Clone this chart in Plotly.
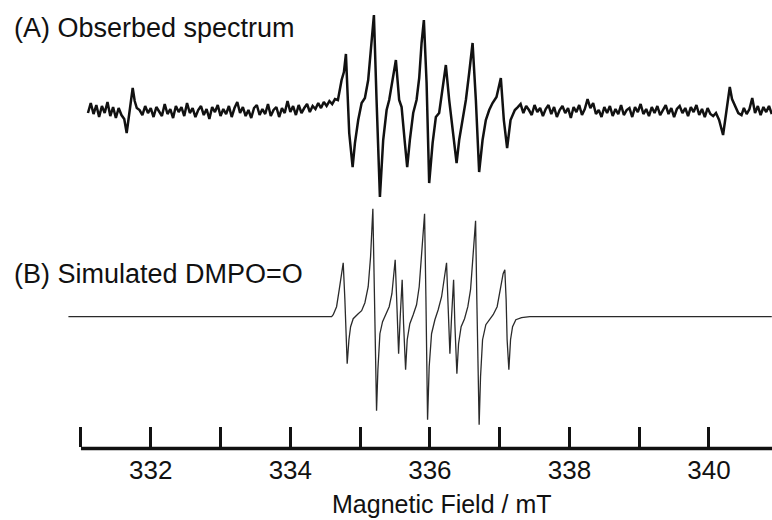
import plotly.graph_objects as go

# ---------------- data (field in mT, intensity in arbitrary units) ----------------
# (A) observed spectrum
obs_field_left = [331.10, 331.14, 331.18, 331.22, 331.26, 331.30, 331.34, 331.38, 331.42, 331.46,
                  331.50, 331.54, 331.58,
                  331.62, 331.655, 331.70, 331.741, 331.77, 331.80]
obs_signal_left = [-0.02, 0.08, -0.03, 0.06, -0.06, 0.05, -0.02, 0.09, -0.05, 0.04,
                   -0.07, 0.03, -0.04,
                   -0.08, -0.22, 0.00, 0.23, 0.10, 0.03]

obs_field_mid = [331.84, 331.88, 331.92, 331.96, 332.00, 332.04, 332.08, 332.12, 332.16, 332.20,
                 332.24, 332.28, 332.32, 332.36, 332.40, 332.44, 332.48, 332.52, 332.56, 332.60,
                 332.64, 332.68, 332.72, 332.76, 332.80, 332.84, 332.88, 332.92, 332.96, 333.00,
                 333.04, 333.08, 333.12, 333.16, 333.20, 333.24, 333.28, 333.32, 333.36, 333.40,
                 333.44, 333.48, 333.52, 333.56, 333.60, 333.64, 333.68, 333.72, 333.76, 333.80,
                 333.84, 333.88, 333.92, 333.96, 334.00, 334.04, 334.08, 334.12, 334.16, 334.20,
                 334.24, 334.28, 334.32, 334.36, 334.40, 334.44, 334.48, 334.52, 334.56, 334.60,
                 334.64]
obs_signal_mid = [0.01, -0.04, 0.05, -0.02, 0.03, -0.06, 0.04, 0.00, -0.05, 0.07,
                  -0.03, 0.02, -0.07, 0.05, -0.01, 0.04, -0.05, 0.08, -0.02, 0.03,
                  -0.06, 0.01, 0.05, -0.04, 0.02, -0.08, 0.04, -0.01, 0.06, -0.05,
                  0.02, -0.03, 0.05, -0.06, 0.03, 0.09, -0.02, 0.04, -0.05, 0.01,
                  -0.07, 0.03, 0.06, -0.04, 0.02, -0.03, 0.07, -0.05, 0.01, 0.04,
                  -0.06, 0.03, -0.02, 0.10, -0.01, 0.05, -0.04, 0.06, -0.02, 0.03,
                  0.07, -0.01, 0.05, 0.02, 0.08, 0.03, 0.09, 0.05, 0.10, 0.07,
                  0.12]

obs_field_lines = [334.682, 334.735, 334.768, 334.797, 334.844, 334.893, 334.926, 334.973, 335.022, 335.069,
                   335.116, 335.150, 335.198, 335.236, 335.284, 335.331, 335.380, 335.417, 335.466, 335.513,
                   335.560, 335.595, 335.642, 335.675, 335.713, 335.761, 335.809, 335.847, 335.881, 335.914,
                   335.953, 335.990, 336.039, 336.086, 336.133, 336.182, 336.229, 336.277, 336.325, 336.383,
                   336.420, 336.468, 336.516, 336.563, 336.612, 336.659, 336.706, 336.755, 336.802, 336.850,
                   336.898, 336.955, 337.017, 337.060, 337.107, 337.156, 337.218]
obs_signal_lines = [0.11, 0.31, 0.39, 0.57, -0.22, -0.56, -0.32, -0.09, 0.08, 0.13,
                    0.31, 0.61, 0.96, 0.11, -0.86, -0.29, 0.01, 0.11, 0.31, 0.51,
                    0.11, 0.04, -0.32, -0.56, -0.29, -0.02, 0.11, 0.33, 0.68, 0.91,
                    0.28, -0.72, -0.32, -0.06, -0.02, 0.24, 0.46, 0.11, -0.16, -0.52,
                    -0.29, -0.09, 0.11, 0.38, 0.68, 0.11, -0.61, -0.29, -0.09, 0.01,
                    0.08, 0.14, 0.33, -0.09, -0.37, -0.09, 0.01]

obs_field_right = [337.26, 337.30, 337.34, 337.38, 337.42, 337.46, 337.50, 337.54, 337.58, 337.62,
                   337.66, 337.70, 337.74, 337.78, 337.82, 337.86, 337.90, 337.94, 337.98, 338.02,
                   338.06, 338.10, 338.14, 338.18, 338.22, 338.26, 338.30, 338.34, 338.38, 338.42,
                   338.46, 338.50, 338.54, 338.58, 338.62, 338.66, 338.70, 338.74, 338.78, 338.82,
                   338.86, 338.90, 338.94, 338.98, 339.02, 339.06, 339.10, 339.14, 339.18, 339.22,
                   339.26, 339.30, 339.34, 339.38, 339.42, 339.46, 339.50, 339.54, 339.58, 339.62,
                   339.66, 339.70, 339.74, 339.78, 339.82, 339.86, 339.90, 339.94, 339.98, 340.02,
                   340.06,
                   340.10, 340.145, 340.202, 340.25, 340.298, 340.33, 340.37, 340.42, 340.466,
                   340.50, 340.54, 340.58, 340.62, 340.66, 340.70, 340.74, 340.78, 340.82, 340.86,
                   340.90]
obs_signal_right = [0.04, 0.07, -0.02, 0.05, 0.01, -0.04, 0.06, -0.01, 0.03, -0.05,
                    0.02, 0.06, -0.03, 0.04, -0.06, 0.01, 0.05, -0.02, 0.03, -0.07,
                    0.04, -0.01, 0.06, -0.04, 0.02, 0.12, 0.03, 0.08, -0.03, 0.01,
                    -0.06, 0.04, -0.02, 0.05, -0.05, 0.02, -0.03, 0.06, -0.04, 0.01,
                    0.03, -0.06, 0.04, -0.01, 0.07, -0.03, 0.02, -0.05, 0.04, -0.02,
                    0.05, -0.04, 0.01, 0.06, -0.03, 0.03, -0.06, 0.02, 0.05, -0.02,
                    0.03, -0.05, 0.04, -0.01, 0.06, -0.04, 0.02, -0.06, 0.03, -0.03,
                    -0.05,
                    -0.02, -0.09, -0.24, 0.00, 0.24, 0.12, 0.06, -0.02, -0.04,
                    0.03, -0.03, 0.02, 0.13, -0.02, 0.05, -0.04, 0.04, -0.01, 0.05,
                    -0.03]

# (B) simulated DMPO=O spectrum
sim_field = [330.82, 334.592, 334.615, 334.663, 334.701, 334.735, 334.758, 334.782, 334.797, 334.815,
             334.840, 334.864, 334.901, 334.940, 334.973, 335.022, 335.069, 335.116, 335.150, 335.183,
             335.202, 335.216, 335.236, 335.255, 335.284, 335.322, 335.370, 335.417, 335.456, 335.484,
             335.503, 335.523, 335.552, 335.575, 335.603, 335.623, 335.652, 335.675, 335.713, 335.761,
             335.809, 335.847, 335.885, 335.924, 335.943, 335.953, 335.967, 335.990, 336.024, 336.072,
             336.119, 336.168, 336.201, 336.239, 336.258, 336.287, 336.311, 336.340, 336.358, 336.387,
             336.411, 336.448, 336.497, 336.544, 336.583, 336.620, 336.655, 336.673, 336.688, 336.706,
             336.726, 336.755, 336.802, 336.860, 336.907, 336.964, 337.013, 337.050, 337.074, 337.093,
             337.107, 337.132, 337.156, 337.185, 337.232, 337.314, 337.433, 340.90]
sim_signal = [0.00, 0.00, 0.02, 0.10, 0.27, 0.44, 0.54, 0.17, -0.23, -0.47,
              -0.23, -0.10, -0.02, 0.01, 0.03, 0.06, 0.14, 0.30, 0.60, 1.08,
              0.27, -0.40, -0.94, -0.53, -0.17, -0.05, 0.02, 0.10, 0.23, 0.43,
              0.57, 0.20, -0.37, 0.00, 0.37, -0.07, -0.53, -0.23, -0.07, 0.02,
              0.12, 0.30, 0.63, 1.03, 0.20, -0.40, -1.03, -0.50, -0.17, -0.03,
              0.07, 0.20, 0.37, 0.54, 0.17, -0.37, 0.00, 0.37, -0.07, -0.57,
              -0.27, -0.10, -0.02, 0.10, 0.27, 0.60, 0.96, 0.17, -0.47, -1.08,
              -0.60, -0.23, -0.08, -0.03, 0.02, 0.10, 0.27, 0.43, 0.47, 0.17,
              -0.23, -0.53, -0.23, -0.10, -0.03, -0.01, 0.00, 0.00]

tick_values = [331, 332, 333, 334, 335, 336, 337, 338, 339, 340]
tick_labels = ["", "332", "", "334", "", "336", "", "338", "", "340"]

label_a = "(A) Obserbed spectrum"
label_b = "(B) Simulated DMPO=O"
x_title = "Magnetic Field / mT"

obs_field = obs_field_left + obs_field_mid + obs_field_lines + obs_field_right
obs_signal = obs_signal_left + obs_signal_mid + obs_signal_lines + obs_signal_right
assert len(obs_field) == len(obs_signal)
assert len(sim_field) == len(sim_signal)

FONT = "Liberation Sans, Arial, Helvetica, sans-serif"

fig = go.Figure()
fig.add_trace(go.Scatter(x=obs_field, y=obs_signal, mode="lines", xaxis="x", yaxis="y2",
                         line=dict(color="#111111", width=2.5), hoverinfo="skip", showlegend=False))
fig.add_trace(go.Scatter(x=sim_field, y=sim_signal, mode="lines", xaxis="x", yaxis="y",
                         line=dict(color="#2a2a2a", width=1.3), hoverinfo="skip", showlegend=False))

fig.update_layout(
    width=772, height=520,
    margin=dict(l=68, r=0, t=0, b=73),
    paper_bgcolor="white", plot_bgcolor="white",
    font=dict(family=FONT, color="#111111"),
    xaxis=dict(range=[330.814, 340.903], domain=[0, 1], anchor="y",
               showline=False, showgrid=False, zeroline=False,
               ticks="inside", tickmode="array", tickvals=tick_values, ticktext=tick_labels,
               ticklen=20, tickwidth=3, tickcolor="#111111", ticklabelstandoff=5,
               tickfont=dict(family=FONT, size=26, color="#111111")),
    yaxis=dict(domain=[0, 0.548], range=[-1.303, 1.147], visible=False),
    yaxis2=dict(domain=[0.548, 1], range=[-0.91, 1.11], visible=False, anchor="x"),
    shapes=[dict(type="line", xref="x", yref="paper", x0=331, x1=340.903,
                 y0=-0.0034, y1=-0.0034, line=dict(color="#111111", width=3.5))],
    annotations=[
        dict(text=label_a, xref="paper", yref="paper", x=-0.08, y=0.937,
             xanchor="left", yanchor="middle", showarrow=False,
             font=dict(family=FONT, size=27, color="#111111")),
        dict(text=label_b, xref="paper", yref="paper", x=-0.08, y=0.387,
             xanchor="left", yanchor="middle", showarrow=False,
             font=dict(family=FONT, size=27, color="#111111")),
        dict(text=x_title, xref="paper", yref="paper", x=0.531, y=-0.128,
             xanchor="center", yanchor="middle", showarrow=False,
             font=dict(family=FONT, size=25, color="#111111")),
    ],
)

fig.write_html("out.html")
